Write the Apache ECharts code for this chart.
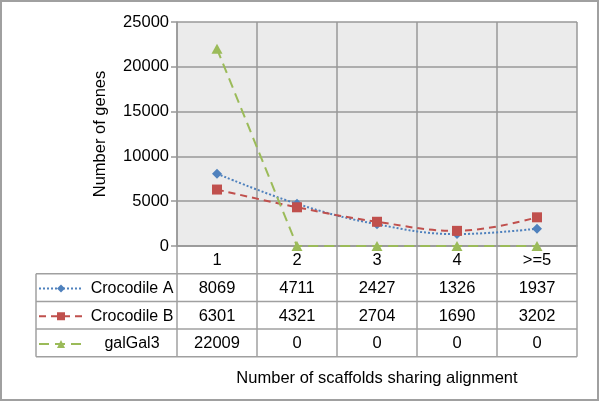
<!DOCTYPE html>
<html>
<head>
<meta charset="utf-8">
<script src="https://cdn.jsdelivr.net/npm/echarts@6/dist/echarts.min.js"></script>
<style>
  html, body { margin: 0; padding: 0; background: #fff; }
  #chart { width: 600px; height: 402px; }
</style>
</head>
<body>
<div id="chart"></div>
<script>
const categories = ['1', '2', '3', '4', '>=5']
const crocodileA = [8069, 4711, 2427, 1326, 1937]
const crocodileB = [6301, 4321, 2704, 1690, 3202]
const galGal3 = [22009, 0, 0, 0, 0]
const yTicks = { min: 0, max: 25000, interval: 5000 }

const seriesList = [
  { name: 'Crocodile A', data: crocodileA, color: '#4f81bd', type: 'dotted', symbol: 'diamond', size: 10, smooth: 0.4 },
  { name: 'Crocodile B', data: crocodileB, color: '#c0504d', type: [7, 5], symbol: 'rect', size: 10, smooth: 0.4 },
  { name: 'galGal3', data: galGal3, color: '#9bbb59', type: [10, 6], symbol: 'triangle', size: 10, smooth: false }
]

const font = 'Helvetica, "Liberation Sans", Arial, sans-serif'
const fontSize = 16.5
const gridColor = '#999'
const rowH = 27.7
const tableLeft = 36
const plotBottom = 246

const chart = echarts.init(document.getElementById('chart'))

chart.setOption({
  backgroundColor: '#fff',
  animation: false,
  textStyle: { fontFamily: font },
  grid: { left: 177, right: 23, top: 22, bottom: 402 - plotBottom, backgroundColor: '#ebebeb', show: true, borderWidth: 0 },
  // one legend per table row so each sits in its own cell
  legend: seriesList.map((s, r) => ({
    left: 38,
    top: plotBottom + rowH * (r + 1) + rowH / 2 - 7,
    padding: 0,
    itemWidth: 44,
    itemHeight: 10,
    itemGap: 4,
    selectedMode: false,
    formatter: '{a|{name}}',
    textStyle: {
      rich: { a: { width: 88, align: 'center', fontSize: 16, color: '#000', fontFamily: font } }
    },
    data: [s.name]
  })),
  xAxis: {
    type: 'category',
    data: categories,
    name: 'Number of scaffolds sharing alignment',
    nameLocation: 'middle',
    nameGap: 124,
    nameTextStyle: { fontSize: fontSize, color: '#000' },
    axisLine: { lineStyle: { color: gridColor, width: 1.5 } },
    axisTick: { show: false },
    axisLabel: { fontSize: fontSize, color: '#000', margin: 6 },
    splitLine: { show: true, lineStyle: { color: gridColor, width: 1.5 } }
  },
  yAxis: {
    type: 'value',
    min: yTicks.min,
    max: yTicks.max,
    interval: yTicks.interval,
    name: 'Number of genes',
    nameLocation: 'middle',
    nameGap: 68,
    nameTextStyle: { fontSize: fontSize, color: '#000' },
    axisLine: { show: true, lineStyle: { color: gridColor, width: 1.5 } },
    axisTick: { show: true, length: 6, lineStyle: { color: gridColor, width: 1.5 } },
    axisLabel: { fontSize: fontSize, color: '#000', margin: 8, formatter: v => String(v) },
    splitLine: { lineStyle: { color: gridColor, width: 1.5 } }
  },
  series: seriesList.map(s => ({
    name: s.name,
    type: 'line',
    data: s.data,
    smooth: s.smooth,
    symbol: s.symbol,
    symbolSize: s.symbol === 'triangle' ? [11, 10] : s.size,
    itemStyle: { color: s.color },
    lineStyle: { color: s.color, width: 2, type: s.type }
  }))
})

// data table under the plot, cell text taken from the arrays above
function drawTable() {
  const x0 = chart.convertToPixel({ xAxisIndex: 0 }, 0)
  const x1 = chart.convertToPixel({ xAxisIndex: 0 }, 1)
  const band = x1 - x0
  const plotLeft = x0 - band / 2
  const plotRight = plotLeft + band * categories.length
  const top = chart.convertToPixel({ yAxisIndex: 0 }, 0)
  const rowTops = [0, 1, 2, 3, 4].map(r => top + r * rowH)
  const line = { stroke: '#a0a0a0', lineWidth: 1.5 }
  const els = []
  // horizontal lines
  els.push({ type: 'line', shape: { x1: plotLeft, y1: rowTops[0], x2: plotRight, y2: rowTops[0] }, style: line })
  for (let r = 1; r < rowTops.length; r++) {
    els.push({ type: 'line', shape: { x1: tableLeft, y1: rowTops[r], x2: plotRight, y2: rowTops[r] }, style: line })
  }
  // vertical lines
  els.push({ type: 'line', shape: { x1: tableLeft, y1: rowTops[1], x2: tableLeft, y2: rowTops[4] }, style: line })
  for (let c = 0; c <= categories.length; c++) {
    const x = plotLeft + c * band
    els.push({ type: 'line', shape: { x1: x, y1: rowTops[0], x2: x, y2: rowTops[4] }, style: line })
  }
  // values
  seriesList.forEach((s, r) => {
    s.data.forEach((v, c) => {
      els.push({
        type: 'text',
        x: chart.convertToPixel({ xAxisIndex: 0 }, c),
        y: rowTops[r + 1] + rowH / 2 + 1,
        style: { text: String(v), fontSize: fontSize, fontFamily: font, fill: '#000', align: 'center', verticalAlign: 'middle' }
      })
    })
  })
  // outer frame
  els.push({ type: 'rect', shape: { x: 1, y: 1, width: 597, height: 399 }, style: { fill: 'none', stroke: '#a0a0a0', lineWidth: 2 } })
  chart.setOption({ graphic: els })
}
drawTable()
</script>
</body>
</html>
